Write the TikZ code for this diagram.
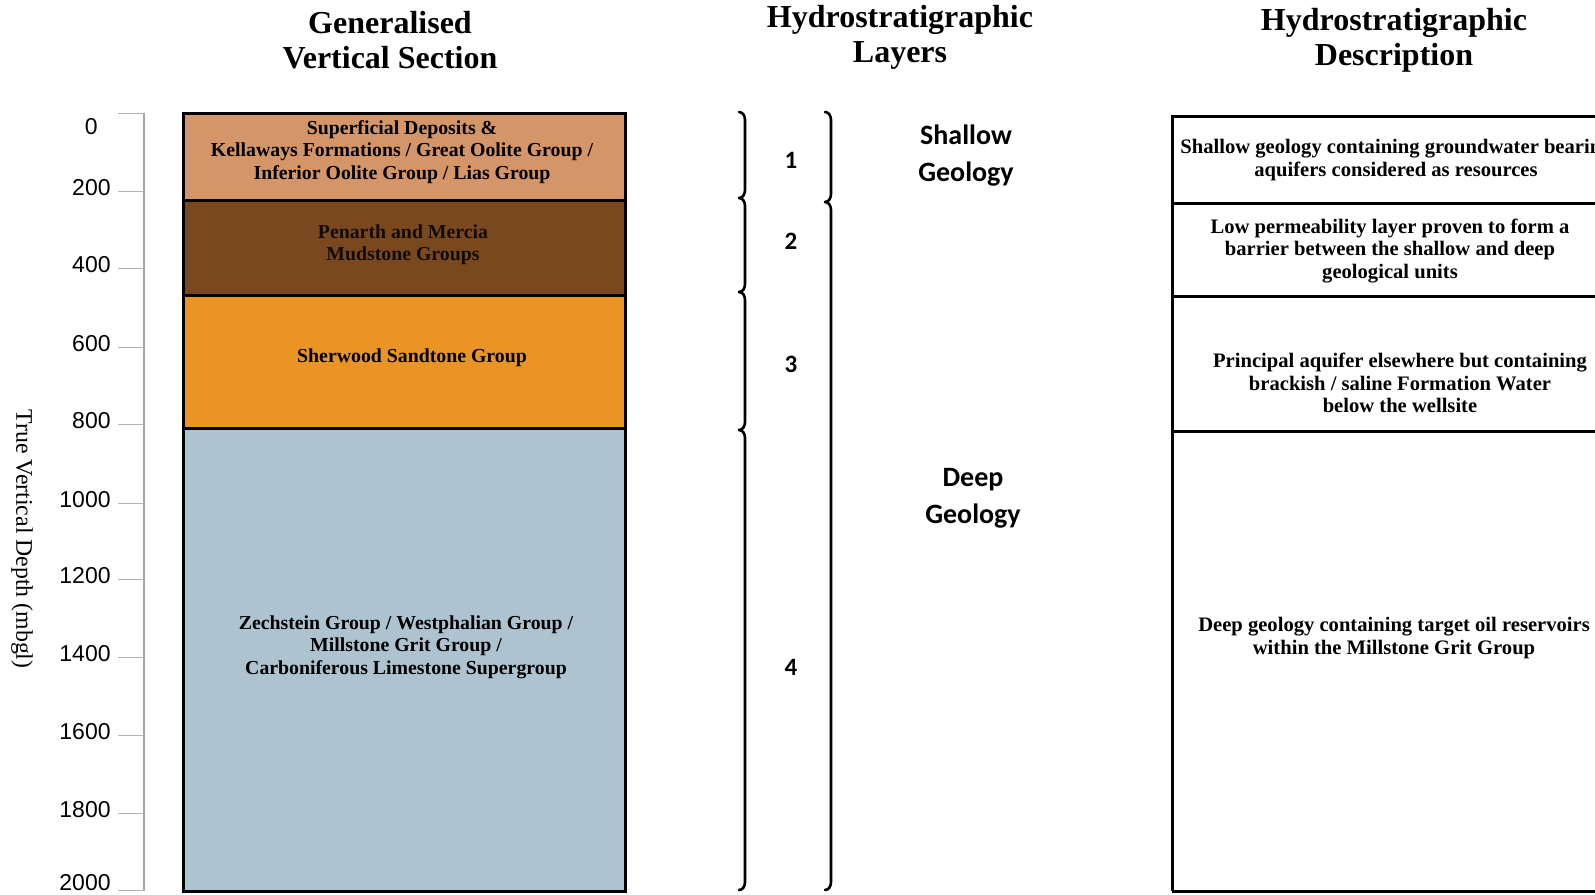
\documentclass[tikz,border=0pt]{standalone}
\usepackage{fontspec}
\setmainfont{Liberation Serif}
\newfontfamily\cambr{Liberation Serif}
\newfontfamily\calib{Carlito}
\newfontfamily\arialf{Liberation Sans}
\definecolor{tanl}{HTML}{D49568}
\definecolor{brownl}{HTML}{7A481E}
\definecolor{orangel}{HTML}{EA9426}
\definecolor{bluel}{HTML}{ADC4D0}
\tikzset{
  layerbox/.style={draw=black, line width=1.5pt},
  boxtxt/.style={font=\cambr\bfseries\fontsize{9.9}{11.2}\selectfont, align=center, inner sep=0pt},
  desctxt/.style={font=\cambr\bfseries\fontsize{10.3}{11.2}\selectfont, align=center, inner sep=0pt},
  titletxt/.style={font=\cambr\bfseries\fontsize{16}{17.5}\selectfont, align=center, inner sep=0pt},
  tickline/.style={draw=gray!60, line width=0.5pt},
  numlbl/.style={font=\arialf\fontsize{11.5}{12}\selectfont, anchor=east, inner sep=0pt},
  bracepath/.style={line width=1.3pt, line cap=round},
  geotxt/.style={font=\calib\bfseries\fontsize{14}{18.5}\selectfont, align=center, inner sep=0pt},
  layernum/.style={font=\calib\bfseries\fontsize{12.5}{14}\selectfont, inner sep=0pt},
  tableline/.style={draw=black, line width=1.5pt}
}
\begin{document}
\begin{tikzpicture}[x=0.5pt,y=-0.5pt]
\useasboundingbox (0,0) rectangle (1595,894);
% titles
\node[titletxt] (t1) at (390,40) {Generalised\\Vertical Section};
\node[titletxt] (t2) at (900,37) {Hydrostratigraphic\\Layers};
\node[titletxt] (t3) at (1394,40) {Hydrostratigraphic\\Description};
% axis
\draw[draw=gray!70, line width=0.6pt] (144,113) -- (144,891);
\foreach \y/\v in {113/0,191/200,268/400,347/600,424/800,503/1000,579/1200,657/1400,735/1600,813/1800,890/2000}{
  \draw[tickline] (118,\y) -- (144,\y);
}
\foreach \y/\v in {191/200,268/400,347/600,424/800,503/1000,579/1200,657/1400,735/1600,813/1800}{
  \node[numlbl] at (111,\y-3) {\v};
}
\node[numlbl] at (111,883) {2000};
\node[numlbl] at (98,127) {0};
\node[font=\fontsize{11.9}{13}\selectfont, rotate=-90, inner sep=0pt] (axl) at (22,539) {True Vertical Depth (mbgl)};
% layers
\fill[tanl] (183,113) rectangle (625,200);
\fill[brownl] (183,200) rectangle (625,295);
\fill[orangel] (183,295) rectangle (625,428);
\fill[bluel] (183,428) rectangle (625,891);
\draw[layerbox] (183,113) rectangle (625,891);
\draw[layerbox] (183,200) -- (625,200);
\draw[layerbox] (183,295) -- (625,295);
\draw[layerbox] (183,428) -- (625,428);
\node[boxtxt] (l1) at (402,152) {Superficial Deposits \&\\Kellaways Formations / Great Oolite Group /\\Inferior Oolite Group / Lias Group};
\node[boxtxt, text=black!85!brownl] (l2) at (403,245) {Penarth and Mercia\\Mudstone Groups};
\node[boxtxt] (l3) at (412,358) {Sherwood Sandtone Group};
\node[boxtxt] (l4) at (406,647) {Zechstein Group / Westphalian Group /\\Millstone Grit Group /\\Carboniferous Limestone Supergroup};
% braces
\foreach \a/\b in {112/198,198/292,292/430,430/890}{
  \draw[bracepath] (739,\a) to[out=0,in=90] (745,\a+8) -- (745,\b-8) to[out=-90,in=0] (739,\b);
}
\foreach \a/\b in {112/202,202/890}{
  \draw[bracepath] (825,\a) to[out=0,in=90] (831,\a+8) -- (831,\b-8) to[out=-90,in=0] (825,\b);
}
\node[layernum] (n1) at (791,160) {1};
\node[layernum] (n2) at (791,241) {2};
\node[layernum] (n3) at (791,364) {3};
\node[layernum] (n4) at (791,667) {4};
\node[geotxt] (sg) at (966,156) {Shallow\\Geology};
\node[geotxt] (dg) at (973,498) {Deep\\Geology};
% description table
\draw[tableline] (1172,891) -- (1172,116) -- (1610,116);
\foreach \y in {203,296,431,891}{
  \draw[tableline] (1172,\y) -- (1610,\y);
}
\node[desctxt] (d1) at (1396,160) {Shallow geology containing groundwater bearing\\aquifers considered as resources};
\node[desctxt] (d2) at (1390,251) {Low permeability layer proven to form a\\barrier between the shallow and deep\\geological units};
\node[desctxt] (d3) at (1400,383) {Principal aquifer elsewhere but containing\\brackish / saline Formation Water\\below the wellsite};
\node[desctxt] (d4) at (1394,638) {Deep geology containing target oil reservoirs\\within the Millstone Grit Group};
\end{tikzpicture}
\end{document}
